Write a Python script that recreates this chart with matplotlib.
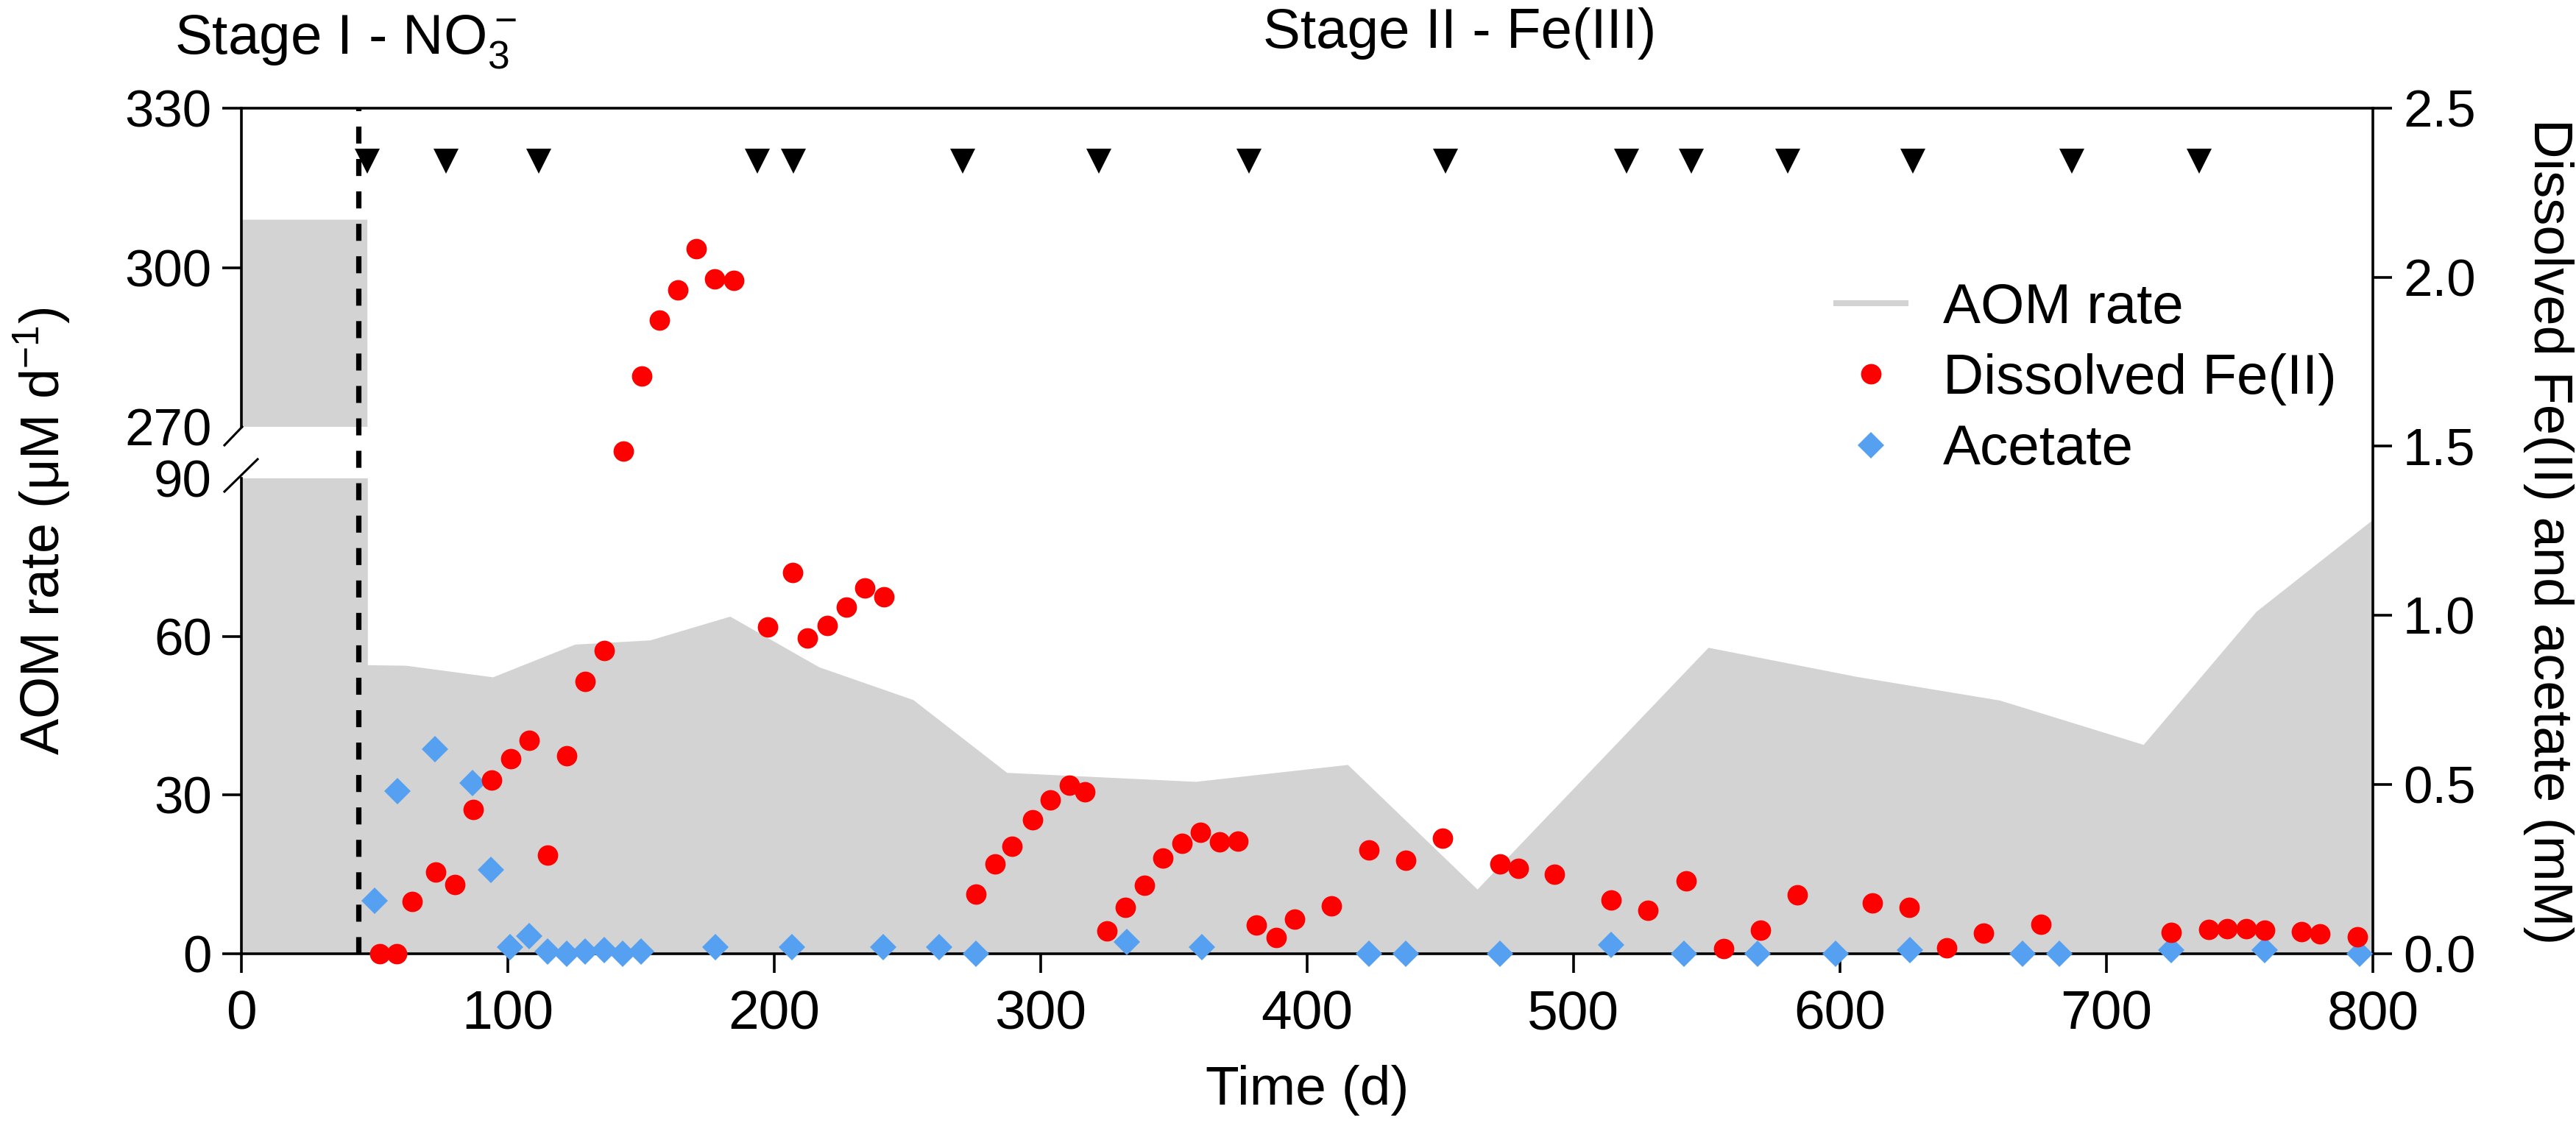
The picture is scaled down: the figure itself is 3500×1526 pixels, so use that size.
import matplotlib
matplotlib.use('Agg')
import matplotlib.pyplot as plt
from matplotlib.lines import Line2D
from matplotlib.ticker import FormatStrFormatter

plt.rcParams['font.family'] = ['Liberation Sans', 'DejaVu Sans']
plt.rcParams['mathtext.fontset'] = 'custom'
plt.rcParams['mathtext.rm'] = 'Liberation Sans'
plt.rcParams['mathtext.it'] = 'Liberation Sans:italic'
plt.rcParams['mathtext.bf'] = 'Liberation Sans:bold'

# ---------------- data ----------------
aom_days = [0, 47.4, 47.6, 62, 94.6, 125.4, 153.6, 183.6, 217, 252.3, 287.5,
            358.3, 415.4, 464, 550.7, 606.2, 660.1, 714, 756.3, 800]
aom_rate = [309, 309, 54.6, 54.5, 52.3, 58.5, 59.3, 63.8, 54.2, 48.0, 34.2,
            32.5, 35.7, 12.1, 57.9, 52.4, 47.9, 39.5, 64.7, 82.1]

fe_days = [52.0, 58.5, 64.1, 73.1, 80.1, 87.2, 94.1, 101.1, 108.0, 115.0, 122.1,
           129.1, 136.2, 143.5, 150.4, 156.9, 163.8, 170.7, 177.8, 184.9,
           197.7, 207.0, 212.6, 220.0, 227.1, 234.1, 241.2,
           275.9, 282.9, 289.2, 297.0, 303.8, 310.8, 316.7,
           324.9, 331.9, 338.9, 345.9, 353.1, 360.0, 367.2, 374.2,
           381.0, 388.4, 395.4, 409.1, 423.3, 437.2, 451.0,
           472.5, 479.3, 493.0, 514.2, 527.9, 542.3, 556.4, 570.2, 584.0,
           612.1, 625.9, 640.0, 653.8, 675.3,
           724.2, 738.3, 745.3, 752.5, 759.5, 773.2, 780.2, 794.3]
fe_mM = [0.0, 0.0, 0.153, 0.241, 0.204, 0.425, 0.513, 0.576, 0.631, 0.291, 0.585,
         0.805, 0.896, 1.485, 1.708, 1.874, 1.963, 2.085, 1.995, 1.991,
         0.965, 1.126, 0.933, 0.970, 1.025, 1.080, 1.055,
         0.175, 0.264, 0.316, 0.396, 0.454, 0.497, 0.478,
         0.066, 0.136, 0.202, 0.282, 0.325, 0.357, 0.330, 0.333,
         0.083, 0.047, 0.102, 0.141, 0.306, 0.275, 0.340,
         0.264, 0.252, 0.235, 0.157, 0.128, 0.214, 0.015, 0.069, 0.172,
         0.149, 0.136, 0.016, 0.060, 0.085,
         0.063, 0.071, 0.073, 0.073, 0.068, 0.065, 0.058, 0.049]

ac_days = [50.0, 58.8, 72.7, 86.8, 93.9, 100.9, 108.0, 115.0, 122.1, 129.1, 136.2,
           143.2, 150.2, 177.9, 206.6, 241.0, 262.0, 275.9, 332.3, 360.5,
           423.3, 437.2, 472.5, 514.2, 541.6, 569.1, 598.4, 626.3, 668.6,
           682.3, 724.2, 759.5, 795.0]
ac_mM = [0.155, 0.481, 0.604, 0.503, 0.248, 0.019, 0.051, 0.005, 0.0, 0.005, 0.01,
         0.0, 0.005, 0.019, 0.019, 0.019, 0.019, 0.0, 0.034, 0.019,
         0.0, 0.0, 0.0, 0.024, 0.0, 0.0, 0.0, 0.01, 0.0,
         0.0, 0.01, 0.01, 0.0]

feed_days = [47.3, 76.8, 111.8, 193.7, 207.3, 270.7, 322.0, 378.3, 452.0,
             519.8, 544.3, 580.4, 627.3, 686.9, 734.9]
stage_switch_day = 44

x_ticks = [0, 100, 200, 300, 400, 500, 600, 700, 800]
lo_ticks = [0, 30, 60, 90]
hi_ticks = [270, 300, 330]
right_ticks = [0.0, 0.5, 1.0, 1.5, 2.0, 2.5]

# ---------------- styles ----------------
GRAY = '#d3d3d3'
RED = '#fe0000'
BLUE = '#55a0f0'
FEED_LEVEL = 2.343

W, H = 3500, 1526
fig = plt.figure(figsize=(W / 100, H / 100), dpi=100)


def fx(x):
    return x / W


def fy(y):
    return 1 - y / H


x0, x1 = 327.5, 3224.0
y_top, y_bot = 147.0, 1295.5
y_hi_bot, y_lo_top = 580.0, 650.0

LW = 2.6
TL = 18.5

ax_lo = fig.add_axes([fx(x0), fy(y_bot), fx(x1) - fx(x0), fy(y_lo_top) - fy(y_bot)], zorder=1)
ax_hi = fig.add_axes([fx(x0), fy(y_hi_bot), fx(x1) - fx(x0), fy(y_top) - fy(y_hi_bot)], zorder=1)
ax = fig.add_axes([fx(x0), fy(y_bot), fx(x1) - fx(x0), fy(y_top) - fy(y_bot)], zorder=3)

for a, lim, ticks in ((ax_lo, (0, 90), lo_ticks), (ax_hi, (270, 330), hi_ticks)):
    a.patch.set_visible(False)
    a.fill_between(aom_days, 0, aom_rate, color=GRAY, lw=0)
    a.set_xlim(0, 800)
    a.set_ylim(*lim)
    a.set_yticks(ticks)
    for s in ('top', 'right', 'bottom'):
        a.spines[s].set_visible(False)
    a.spines['left'].set_linewidth(LW)
    a.xaxis.set_visible(False)
    a.tick_params(axis='y', direction='out', length=TL, width=LW, labelsize=51, pad=10)

# hide tick marks at the break
ax_lo.yaxis.get_major_ticks()[-1].tick1line.set_visible(False)
ax_hi.yaxis.get_major_ticks()[0].tick1line.set_visible(False)

# main axes (points, right axis, x axis)
ax.patch.set_visible(False)
ax.set_xlim(0, 800)
ax.set_ylim(0, 2.5)
ax.spines['left'].set_visible(False)
for s in ('top', 'right', 'bottom'):
    ax.spines[s].set_linewidth(LW)
ax.set_xticks(x_ticks)
ax.set_yticks(right_ticks)
ax.yaxis.set_major_formatter(FormatStrFormatter('%.1f'))
ax.tick_params(axis='y', left=False, labelleft=False, right=True, labelright=True,
               direction='out', length=TL, width=LW, labelsize=51, pad=11)
ax.tick_params(axis='x', direction='out', length=TL, width=LW, labelsize=54, pad=17)

ax.axvline(stage_switch_day, color='black', lw=5.2, linestyle=(0, (3.2, 2.9)), zorder=2)

ax.plot(feed_days, [FEED_LEVEL] * len(feed_days), 'v', color='black', ms=25, mew=0,
        clip_on=False, zorder=4)
h_ac, = ax.plot(ac_days, ac_mM, 'D', color=BLUE, ms=18.5, mew=0, clip_on=False,
                zorder=4, label='Acetate')
h_fe, = ax.plot(fe_days, fe_mM, 'o', color=RED, ms=20, mew=0, clip_on=False,
                zorder=5, label='Dissolved Fe(II)')
h_aom = Line2D([], [], color=GRAY, lw=5.8, label='AOM rate')

ax.legend(handles=[h_aom, h_fe, h_ac], loc='upper left',
          bbox_to_anchor=(fx(2495), fy(384)), bbox_transform=fig.transFigure,
          frameon=False, fontsize=55, handlelength=1.23, handletextpad=0.67,
          labelspacing=0.33, borderpad=0, borderaxespad=0, numpoints=1)

# break marks
fig.add_artist(Line2D([fx(329), fx(305)], [fy(580), fy(605)], color='black', lw=2.2))
fig.add_artist(Line2D([fx(305), fx(350)], [fy(668), fy(624)], color='black', lw=2.2))

# texts
fig.text(fx(237), fy(74), 'Stage I - NO$_3^-$', ha='left', va='baseline', fontsize=55)
fig.text(fx(1716), fy(65), 'Stage II - Fe(III)', ha='left', va='baseline', fontsize=55)
fig.text(fx(57), fy(722), 'AOM rate (μM d$^{-1}$)', rotation=90, ha='center',
         va='center', fontsize=53)
fig.text(fx(3463), fy(722), 'Dissolved Fe(II) and acetate (mM)', rotation=-90,
         ha='center', va='center', fontsize=53.5)
fig.text(fx(1776), fy(1447), 'Time (d)', ha='center', va='top', fontsize=54)

fig.savefig('out.png', dpi=100, facecolor='white')
